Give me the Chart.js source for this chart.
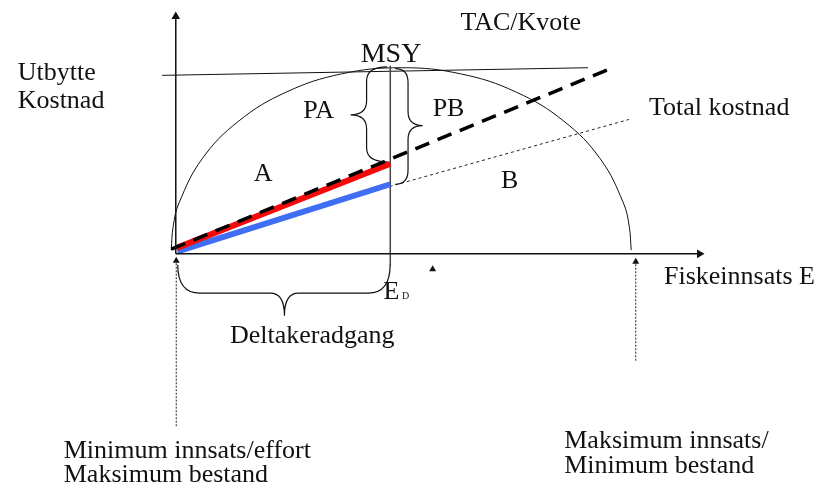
<!DOCTYPE html>
<html>
<head>
<meta charset="utf-8">
<script src="https://cdn.jsdelivr.net/npm/chart.js@4.4.1/dist/chart.umd.min.js"></script>
<style>
  html, body { margin: 0; padding: 0; background: #fff; }
  #wrap { width: 822px; height: 496px; position: relative; }
</style>
</head>
<body>
<div id="wrap"><canvas id="fishery"></canvas></div>
<script>
// ========== DATA ==========
// effort E: 0 = origin, 100 = max effort ; level: 100 = MSY
// yield curve read along the arc, left end to right end
const effort = [-1, -0.57, 0.72, 5.77, 13.79, 24.25, 36.43, 49.5, 62.57, 74.75, 85.21, 93.23, 98.28, 99.57, 100];
const sustainableYield = [2, 14.8, 27.4, 51, 71.3, 86.9, 96.7, 100, 96.7, 86.9, 71.3, 51, 27.4, 14.8, 2];

const tacEffort = [-3, 90.5];
const tacLevel = [95.9, 100];

const msyEffort = [47.1, 47.1];
const msyLevel = [101, -6.3];

const costOpenEffort = [-1, 95.9];        // stiplet total kostnad
const costOpenLevel = [2.5, 100];
const costAEffort = [0.2, 47.1];          // rød
const costALevel = [3.2, 48.4];
const costBEffort = [0.4, 47.1];          // blå
const costBLevel = [1.3, 37.4];
const costTotalEffort = [0.4, 47.1, 99.5]; // prikket
const costTotalLevel = [0.8, 36.3, 72.2];

const axisXEffort = [0, 115];
const axisXLevel = [0, 0];
const axisYEffort = [0, 0];
const axisYLevel = [0, 127.5];
const minArrowEffort = [0.1, 0.1];
const minArrowLevel = [-92.6, -3.7];
const maxArrowEffort = [101, 101];
const maxArrowLevel = [-57.4, -4.2];
const markerEffort = [56.4];
const markerLevel = [-8.3];

function pts(xs, ys) {
    return xs.map((x, i) => ({ x: x, y: ys[i] }));
}

// ========== TEKST OG KLAMMER ==========
const notes = [
    { text: "TAC/Kvote", e: 62.5, v: 120.5 },
    { text: "MSY", e: 40.6, v: 103.2, size: 28 },
    { text: "Utbytte", e: -34.7, v: 93.2 },
    { text: "Kostnad", e: -34.7, v: 78.4 },
    { text: "PA", e: 28.0, v: 73.2 },
    { text: "PB", e: 56.4, v: 74.2 },
    { text: "A", e: 17.1, v: 38.9 },
    { text: "B", e: 71.4, v: 35.3 },
    { text: "Total kostnad", e: 103.9, v: 74.7 },
    { text: "Fiskeinnsats E", e: 107.2, v: -16.3 },
    { text: "E", e: 45.6, v: -24.2 },
    { text: "D", e: 49.7, v: -24.2, size: 10 },
    { text: "Deltakeradgang", e: 11.9, v: -47.9 },
    { text: "Minimum innsats/effort", e: -24.6, v: -109.5 },
    { text: "Maksimum bestand", e: -24.6, v: -122.6 },
    { text: "Maksimum innsats/", e: 85.3, v: -104.2 },
    { text: "Minimum bestand", e: 85.3, v: -117.9 },
];

const braces = [
    { kind: "h", from: 0.43, to: 47.07, tip: 23.86, end: -5.8, flat: -21.05, point: -33.2 },
    { kind: "v", spine: 41.9, end: 46.4, point: 38.4, top: 100.5, tip: 74.7, bottom: 49.5 },
    { kind: "v", spine: 51.0, end: 48.2, point: 54.2, top: 99.5, tip: 68.9, bottom: 37.4 },
];

const annotations = {
    id: "annotations",
    afterDatasetsDraw(chart) {
        const ctx = chart.ctx;
        const sx = chart.scales.x;
        const sy = chart.scales.y;
        const px = (e) => sx.getPixelForValue(e);
        const py = (v) => sy.getPixelForValue(v);
        ctx.save();
        ctx.strokeStyle = "#111";
        ctx.lineWidth = 1.2;
        braces.forEach((b) => {
            ctx.beginPath();
            if (b.kind === "h") {
                const x1 = px(b.from), x2 = px(b.to), xt = px(b.tip);
                const y0 = py(b.end), ym = py(b.flat), yt = py(b.point);
                const r = 22, r2 = 14;
                ctx.moveTo(x1, y0);
                ctx.quadraticCurveTo(x1, ym, x1 + r, ym);
                ctx.lineTo(xt - r2, ym);
                ctx.quadraticCurveTo(xt, ym, xt, yt);
                ctx.quadraticCurveTo(xt, ym, xt + r2, ym);
                ctx.lineTo(x2 - r, ym);
                ctx.quadraticCurveTo(x2, ym, x2, y0);
            } else {
                const xs = px(b.spine), xe = px(b.end), xp = px(b.point);
                const yt = py(b.top), ym = py(b.tip), yb = py(b.bottom);
                const r = 14;
                ctx.moveTo(xe, yt);
                ctx.quadraticCurveTo(xs, yt, xs, yt + r);
                ctx.lineTo(xs, ym - r);
                ctx.quadraticCurveTo(xs, ym, xp, ym);
                ctx.quadraticCurveTo(xs, ym, xs, ym + r);
                ctx.lineTo(xs, yb - r);
                ctx.quadraticCurveTo(xs, yb, xe, yb);
            }
            ctx.stroke();
        });
        ctx.fillStyle = "#111";
        ctx.textBaseline = "alphabetic";
        ctx.textAlign = "left";
        notes.forEach((n) => {
            ctx.font = (n.size || 26) + "px 'Liberation Serif', 'Times New Roman', serif";
            ctx.fillText(n.text, px(n.e), py(n.v));
        });
        ctx.restore();
    },
};

// ========== GRAF ==========
const ctx = document.getElementById("fishery").getContext("2d");
new Chart(ctx, {
    type: "scatter",
    data: {
        datasets: [
            {
                data: pts(axisXEffort, axisXLevel),
                showLine: true,
                borderColor: "#111",
                borderWidth: 1.5,
                pointRadius: [0, 5],
                pointStyle: "triangle",
                rotation: 90,
                pointBackgroundColor: "#111",
                pointBorderWidth: 0,
            },
            {
                data: pts(axisYEffort, axisYLevel),
                showLine: true,
                borderColor: "#111",
                borderWidth: 1.5,
                pointRadius: [0, 5],
                pointStyle: "triangle",
                pointBackgroundColor: "#111",
                pointBorderWidth: 0,
            },
            {
                data: pts(minArrowEffort, minArrowLevel),
                showLine: true,
                borderColor: "#222",
                borderWidth: 1,
                borderDash: [2, 1.5],
                pointRadius: [0, 4],
                pointStyle: "triangle",
                pointBackgroundColor: "#111",
                pointBorderWidth: 0,
            },
            {
                data: pts(maxArrowEffort, maxArrowLevel),
                showLine: true,
                borderColor: "#222",
                borderWidth: 1,
                borderDash: [2, 1.5],
                pointRadius: [0, 4],
                pointStyle: "triangle",
                pointBackgroundColor: "#111",
                pointBorderWidth: 0,
            },
            {
                data: pts(markerEffort, markerLevel),
                pointRadius: 4,
                pointStyle: "triangle",
                pointBackgroundColor: "#111",
                pointBorderWidth: 0,
            },
            {
                data: pts(costOpenEffort, costOpenLevel),
                showLine: true,
                borderColor: "#000",
                borderWidth: 3.5,
                borderDash: [15, 9],
                pointRadius: 0,
            },
            {
                data: pts(costAEffort, costALevel),
                showLine: true,
                borderColor: "#f50a0a",
                borderWidth: 6,
                pointRadius: 0,
            },
            {
                data: pts(costBEffort, costBLevel),
                showLine: true,
                borderColor: "#3f6ef2",
                borderWidth: 6,
                pointRadius: 0,
            },
            {
                data: pts(costTotalEffort, costTotalLevel),
                showLine: true,
                borderColor: "#222",
                borderWidth: 1,
                borderDash: [3, 3],
                pointRadius: 0,
            },
            {
                data: pts(msyEffort, msyLevel),
                showLine: true,
                borderColor: "#444",
                borderWidth: 1.5,
                pointRadius: 0,
            },
            {
                data: pts(tacEffort, tacLevel),
                showLine: true,
                borderColor: "#111",
                borderWidth: 1,
                pointRadius: 0,
            },
            {
                data: pts(effort, sustainableYield),
                showLine: true,
                borderColor: "#111",
                borderWidth: 1,
                tension: 0.4,
                pointRadius: 0,
            },
        ],
    },
    options: {
        responsive: true,
        maintainAspectRatio: false,
        animation: false,
        layout: { padding: 0 },
        plugins: { legend: { display: false }, tooltip: { enabled: false } },
        scales: {
            x: { type: "linear", min: -37.5, max: 140.8, display: false },
            y: { type: "linear", min: -127.4, max: 133.7, display: false },
        },
        clip: false,
    },
    plugins: [annotations],
});
</script>
</body>
</html>
